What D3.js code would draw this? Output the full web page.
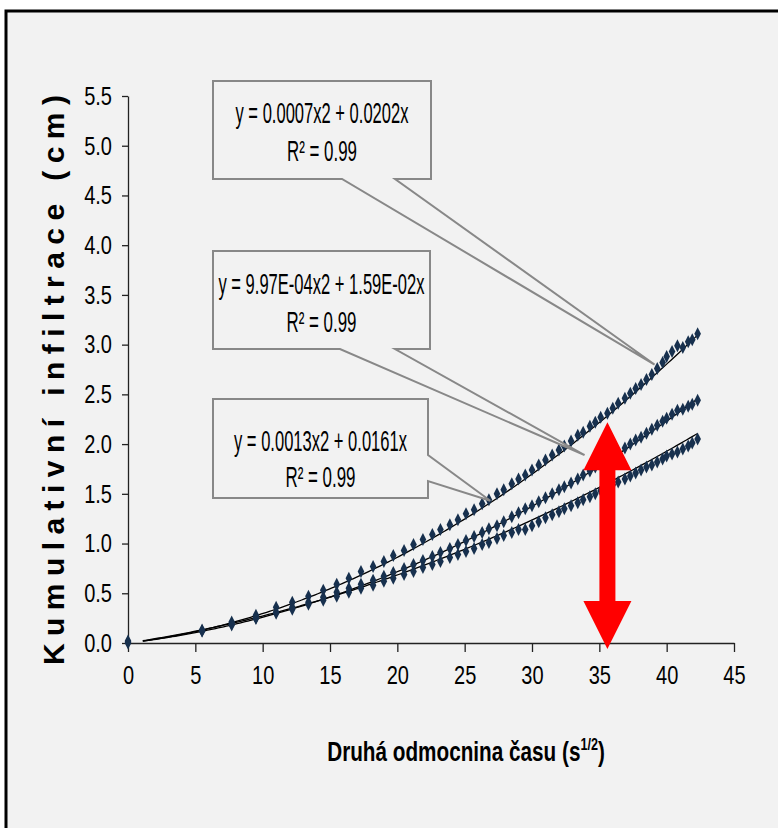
<!DOCTYPE html>
<html>
<head>
<meta charset="utf-8">
<script src="https://cdn.jsdelivr.net/npm/d3@7"></script>
<style>
  body { margin: 0; background: #fff; }
  svg { display: block; }
</style>
</head>
<body>
<div id="chart-container"></div>
<script>
// square root of time (s^1/2), shared by all three runs
var xs = [0, 5.5, 7.7, 9.5, 11.0, 12.2, 13.4, 14.5, 15.5, 16.4, 17.3, 18.2, 19.0, 19.7, 20.5,
  21.2, 21.9, 22.6, 23.2, 23.9, 24.5, 25.1, 25.7, 26.3, 26.8, 27.4, 27.9, 28.5, 29.0, 29.5,
  30.0, 30.5, 31.0, 31.5, 32.0, 32.4, 32.9, 33.4, 33.8, 34.3, 34.7, 35.1, 35.6, 36.0, 36.4,
  36.9, 37.3, 37.7, 38.1, 38.5, 38.9, 39.3, 39.7, 40.0, 40.4, 40.8, 41.2, 41.6, 41.9, 42.3]

var topRun = [0.02, 0.13, 0.21, 0.28, 0.36, 0.41, 0.47, 0.53, 0.59, 0.65, 0.72, 0.77, 0.82, 0.88, 0.93,
  0.99, 1.04, 1.09, 1.14, 1.19, 1.24, 1.30, 1.34, 1.40, 1.44, 1.50, 1.54, 1.60, 1.65, 1.69,
  1.74, 1.79, 1.84, 1.89, 1.94, 1.98, 2.03, 2.09, 2.12, 2.18, 2.22, 2.27, 2.31, 2.36, 2.41,
  2.46, 2.51, 2.56, 2.60, 2.65, 2.70, 2.76, 2.82, 2.88, 2.93, 2.99, 2.97, 3.03, 3.05, 3.11]

var midRun = [0.01, 0.12, 0.19, 0.25, 0.31, 0.36, 0.41, 0.46, 0.51, 0.55, 0.59, 0.63, 0.67, 0.71, 0.75,
  0.79, 0.83, 0.87, 0.91, 0.95, 0.99, 1.03, 1.07, 1.11, 1.15, 1.18, 1.22, 1.27, 1.31, 1.35,
  1.38, 1.42, 1.46, 1.50, 1.54, 1.57, 1.61, 1.65, 1.69, 1.73, 1.77, 1.80, 1.84, 1.88, 1.92,
  1.96, 2.00, 2.04, 2.07, 2.11, 2.15, 2.19, 2.23, 2.26, 2.30, 2.34, 2.35, 2.38, 2.40, 2.44]

var lowRun = [0.00, 0.12, 0.18, 0.25, 0.30, 0.34, 0.39, 0.43, 0.47, 0.51, 0.55, 0.58, 0.62, 0.65, 0.69,
  0.72, 0.76, 0.79, 0.82, 0.86, 0.89, 0.92, 0.95, 0.99, 1.01, 1.05, 1.08, 1.11, 1.14, 1.14,
  1.18, 1.22, 1.26, 1.29, 1.32, 1.35, 1.38, 1.41, 1.44, 1.47, 1.50, 1.53, 1.56, 1.59, 1.62,
  1.65, 1.68, 1.71, 1.74, 1.77, 1.79, 1.82, 1.85, 1.88, 1.90, 1.92, 1.95, 1.98, 2.01, 2.05]

// polynomial trendlines y = a*x^2 + b*x (top, middle, bottom)
var trendA = [0.00135, 0.000997, 0.0007]
var trendB = [0.0161, 0.0159, 0.0202]
var trendRange = [1.1, 42.3]

var labelEq = ['y = 0.0007x2 + 0.0202x', 'y = 9.97E-04x2 + 1.59E-02x', 'y = 0.0013x2 + 0.0161x']
var labelR2 = ['0.99', '0.99', '0.99']
// where each callout points (data units)
var calloutX = [39.1, 33.9, 26.9]
var calloutY = [2.80, 1.89, 1.43]

var arrowX = 35.6
var arrowY = [2.22, -0.06]

var xTicks = d3.range(0, 46, 5)
var yTicks = d3.range(0, 5.51, 0.5)

var width = 778, height = 828
var bg = '#f2f2f2'
var narrow = '"Liberation Sans", Arial, sans-serif'

// squeeze text horizontally, the original uses a condensed face
function squeeze(sel, k) {
  sel.each(function() {
    var w = this.getComputedTextLength()
    d3.select(this).attr('textLength', w * k).attr('lengthAdjust', 'spacingAndGlyphs')
  })
}

var svg = d3.select('#chart-container')
  .append('svg')
  .attr('width', width)
  .attr('height', height)

/* frame */
svg.append('rect')
  .attr('x', 6).attr('y', 11)
  .attr('width', 800).attr('height', 840)
  .attr('fill', bg)
  .attr('stroke', '#000')
  .attr('stroke-width', 3)

var xScale = d3.scaleLinear().domain([0, 45]).range([128, 734])
var yScale = d3.scaleLinear().domain([0, 5.5]).range([643, 96])

/* y axis */
var yAxis = svg.append('g')
  .attr('transform', 'translate(128,0)')
  .call(d3.axisLeft(yScale).tickValues(yTicks).tickFormat(d3.format('.1f')).tickSize(6).tickSizeOuter(0).tickPadding(10))
yAxis.select('.domain').attr('stroke', '#222').attr('stroke-width', 1.3)
yAxis.selectAll('.tick line').attr('stroke', '#222').attr('stroke-width', 1.3)
yAxis.selectAll('.tick text')
  .attr('font-family', narrow)
  .attr('font-size', 26)
  .attr('fill', '#000')
  .call(squeeze, 0.77)

/* x axis */
var xAxis = svg.append('g')
  .attr('transform', 'translate(0,643)')
  .call(d3.axisBottom(xScale).tickValues(xTicks).tickSize(9).tickSizeOuter(0).tickPadding(14))
xAxis.select('.domain').attr('stroke', '#222').attr('stroke-width', 1.3)
xAxis.selectAll('.tick line').attr('stroke', '#222').attr('stroke-width', 1.3)
xAxis.selectAll('.tick text')
  .attr('font-family', narrow)
  .attr('font-size', 26)
  .attr('fill', '#000')
  .call(squeeze, 0.77)

/* axis titles */
svg.append('text')
  .attr('transform', 'translate(64,380) rotate(-90)')
  .attr('text-anchor', 'middle')
  .attr('font-family', '"Liberation Sans", Arial, sans-serif')
  .attr('font-weight', 'bold')
  .attr('font-size', 30)
  .attr('textLength', 570)
  .attr('lengthAdjust', 'spacing')
  .text('Kumulativní infiltrace (cm)')

var xt = svg.append('text')
  .attr('transform', 'translate(466,761) scale(0.74,1)')
  .attr('text-anchor', 'middle')
  .attr('font-family', narrow)
  .attr('font-weight', 'bold')
  .attr('font-size', 28)
xt.append('tspan').text('Druhá odmocnina času (s')
xt.append('tspan').attr('font-size', 17).attr('dy', -11).text('1/2')
xt.append('tspan').attr('dy', 11).text(')')

/* trendlines */
var series = [topRun, midRun, lowRun]
var line = d3.line()
  .x(function(d) { return xScale(d[0]) })
  .y(function(d) { return yScale(d[1]) })

trendA.forEach(function(a, k) {
  var b = trendB[k]
  var pts = d3.range(trendRange[0], trendRange[1] + 0.01, 0.2).map(function(x) {
    return [x, a * x * x + b * x]
  })
  svg.append('path')
    .attr('d', line(pts))
    .attr('fill', 'none')
    .attr('stroke', '#000')
    .attr('stroke-width', 1.3)
})

/* data points, diamonds */
var diamond = 'M0,-6.5 L3.3,0 L0,6.5 L-3.3,0 Z'
series.forEach(function(vals) {
  svg.append('g').selectAll('path')
    .data(vals)
    .enter().append('path')
    .attr('d', diamond)
    .attr('transform', function(d, i) { return 'translate(' + xScale(xs[i]) + ',' + yScale(d) + ')' })
    .attr('fill', '#17304e')
})

/* callouts */
var boxes = [
  {x: 213, y: 81, w: 218, h: 98, base: [342, 395], side: 'bottom', l1: 123, l2: 161, tl: 173},
  {x: 213, y: 251, w: 217, h: 98, base: [340, 395], side: 'bottom', l1: 294, l2: 332, tl: 206},
  {x: 213, y: 399, w: 215, h: 99, base: [455, 481], side: 'right', l1: 451, l2: 487, tl: 173}
]
boxes.forEach(function(b, i) {
  var tx = xScale(calloutX[i]), ty = yScale(calloutY[i])
  var x0 = b.x, y0 = b.y, x1 = b.x + b.w, y1 = b.y + b.h
  var p
  if (b.side === 'bottom') {
    p = [[x0, y0], [x1, y0], [x1, y1], [b.base[1], y1], [tx, ty], [b.base[0], y1], [x0, y1]]
  } else {
    p = [[x0, y0], [x1, y0], [x1, b.base[0]], [tx, ty], [x1, b.base[1]], [x1, y1], [x0, y1]]
  }
  svg.append('path')
    .attr('d', 'M' + p.join('L') + 'Z')
    .attr('fill', bg)
    .attr('stroke', '#888')
    .attr('stroke-width', 2)
    .attr('stroke-linejoin', 'miter')

  var cx = (x0 + x1) / 2
  svg.append('text')
    .attr('x', cx).attr('y', b.l1)
    .attr('text-anchor', 'middle')
    .attr('font-family', narrow)
    .attr('font-size', 29)
    .attr('textLength', b.tl)
    .attr('lengthAdjust', 'spacingAndGlyphs')
    .text(labelEq[i])
  svg.append('text')
    .attr('x', cx).attr('y', b.l2)
    .attr('text-anchor', 'middle')
    .attr('font-family', narrow)
    .attr('font-size', 29)
    .attr('textLength', 70)
    .attr('lengthAdjust', 'spacingAndGlyphs')
    .text('R² = ' + labelR2[i])
})

/* red double arrow */
var ax = xScale(arrowX), ayTop = yScale(arrowY[0]), ayBot = yScale(arrowY[1])
var hw = 24, hh = 48, sw = 8
var arrow = [
  [ax, ayTop], [ax + hw, ayTop + hh], [ax + sw, ayTop + hh], [ax + sw, ayBot - hh], [ax + hw, ayBot - hh],
  [ax, ayBot], [ax - hw, ayBot - hh], [ax - sw, ayBot - hh], [ax - sw, ayTop + hh], [ax - hw, ayTop + hh]
]
svg.append('path')
  .attr('d', 'M' + arrow.join('L') + 'Z')
  .attr('fill', '#ff0000')
</script>
</body>
</html>
